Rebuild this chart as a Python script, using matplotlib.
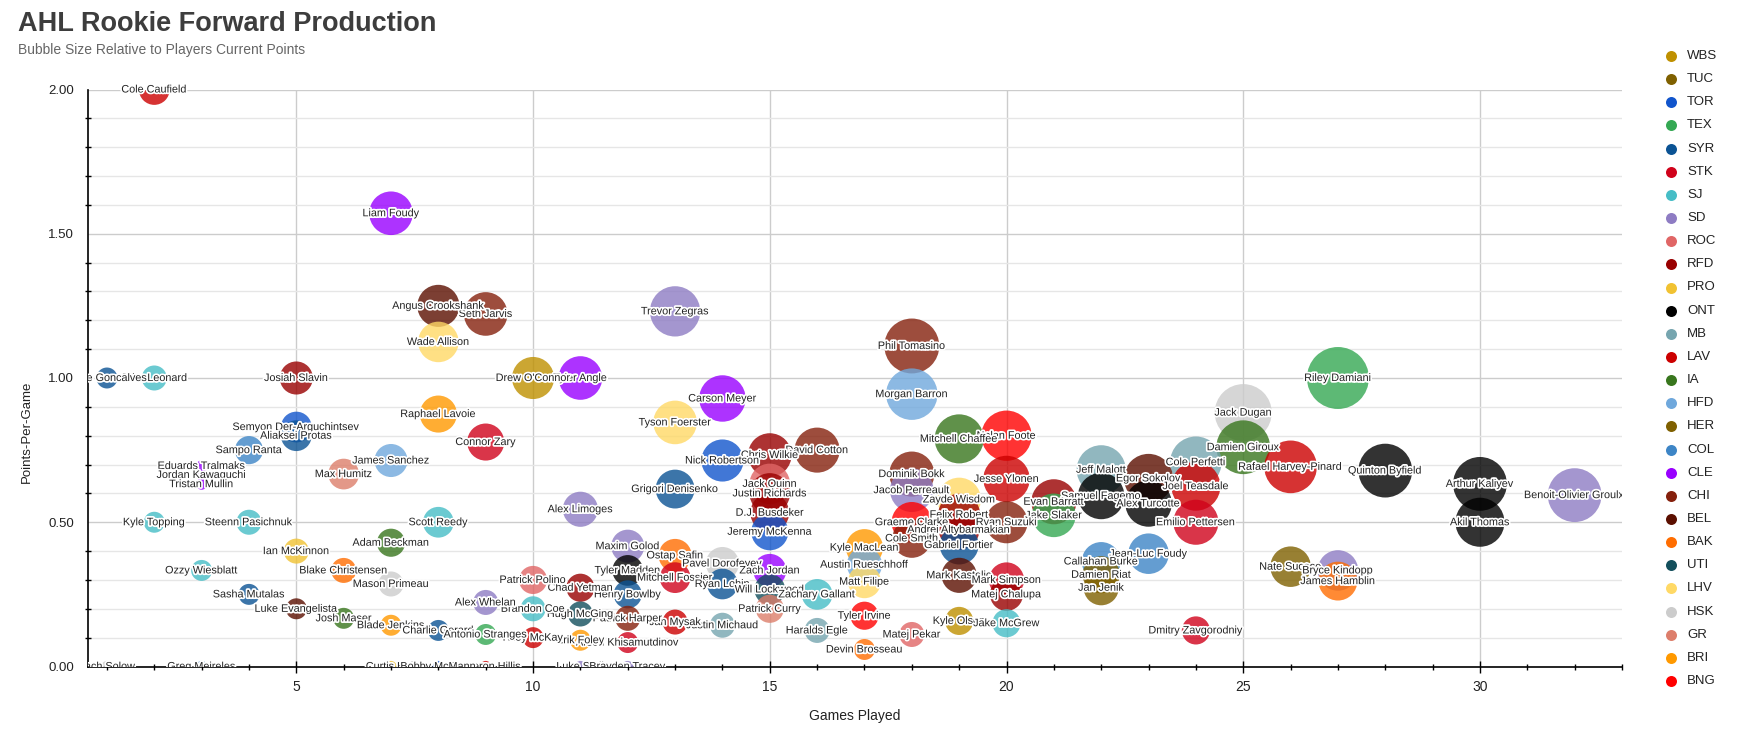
#!/usr/bin/env python3
"""
AHL rookie forward production: points-per-game vs games played,
bubble size scaled by the player's current points.
"""

import numpy as np
import matplotlib
matplotlib.use('Agg')
import matplotlib.pyplot as plt
import matplotlib.patheffects as pe
from matplotlib.transforms import Bbox, TransformedBbox
from matplotlib.ticker import MultipleLocator, FixedLocator, FormatStrFormatter

plt.rcParams['font.family'] = ['Liberation Sans', 'DejaVu Sans']

# ---- data ----
players = [
    'Cole Caufield', 'Gage Goncalves', 'John Leonard', 'Josiah Slavin', 'Semyon Der-Arguchintsev',
    'Aliaksei Protas', 'Sampo Ranta', 'Eduards Tralmaks', 'Jordan Kawaguchi', 'Tristan Mullin',
    'Kyle Topping', 'Steenn Pasichnuk', 'Ian McKinnon', 'Ozzy Wiesblatt', 'Sasha Mutalas',
    'Luke Evangelista', 'Josh Maser', 'Blake Christensen', 'Adam Beckman', 'Mason Primeau',
    'Blade Jenkins', 'Charlie Gerard', 'Scott Reedy', 'James Sanchez', 'Max Humitz',
    'Raphael Lavoie', 'Connor Zary', 'Wade Allison', 'Angus Crookshank', 'Seth Jarvis',
    'Liam Foudy', "Drew O'Connor", 'Tyler Angle', 'Trevor Zegras', 'Carson Meyer',
    'Tyson Foerster', 'Nick Robertson', 'Chris Wilkie', 'David Cotton', 'Grigori Denisenko',
    'Jack Quinn', 'Justin Richards', 'D.J. Busdeker', 'Jeremy McKenna', 'Alex Limoges',
    'Maxim Golod', 'Ostap Safin', 'Pavel Dorofeyev', 'Tyler Madden', 'Mitchell Fossier',
    'Henry Bowlby', 'Chad Yetman', 'Patrick Polino', 'Ryan Lohin', 'Zach Jordan',
    'Will Lockwood', 'Patrick Curry', 'Zachary Gallant', 'Haralds Egle', 'Justin Michaud',
    'Jan Mysak', 'Patrick Harper', 'Arsen Khisamutdinov', 'Erik Foley', 'Hugh McGing',
    'Brandon Coe', 'Riley McKay', 'Alex Whelan', 'Antonio Stranges', 'Cameron Hillis',
    'Curtis Hall', 'Bobby McMann', 'Luke Stoll', 'Brayden Tracey', 'Zach Solow',
    'Greg Meireles', 'Phil Tomasino', 'Morgan Barron', 'Mitchell Chaffee', 'Nolan Foote',
    'Dominik Bokk', 'Jacob Perreault', 'Zayde Wisdom', 'Jesse Ylonen', 'Felix Robert',
    'Ryan Suzuki', 'Graeme Clarke', 'Andrei Altybarmakian', 'Cole Smith', 'Gabriel Fortier',
    'Kyle MacLean', 'Austin Rueschhoff', 'Matt Filipe', 'Tyler Irvine', 'Devin Brosseau',
    'Matej Pekar', 'Kyle Olson', 'Jake McGrew', 'Mark Kastelic', 'Mark Simpson',
    'Matej Chalupa', 'Evan Barratt', 'Jake Slaker', 'Samuel Fagemo', 'Jeff Malott',
    'Egor Sokolov', 'Alex Turcotte', 'Cole Perfetti', 'Joel Teasdale', 'Emilio Pettersen',
    'Jean-Luc Foudy', 'Callahan Burke', 'Damien Riat', 'Jan Jenik', 'Dmitry Zavgorodniy',
    'Jack Dugan', 'Damien Giroux', 'Rafael Harvey-Pinard', 'Riley Damiani', 'Quinton Byfield',
    'Arthur Kaliyev', 'Akil Thomas', 'Benoit-Olivier Groulx', 'Nate Sucese', 'Bryce Kindopp',
    'James Hamblin',
]

games_played = [
    2, 1, 2, 5, 5, 5, 4, 3, 3, 3,
    2, 4, 5, 3, 4, 5, 6, 6, 7, 7,
    7, 8, 8, 7, 6, 8, 9, 8, 8, 9,
    7, 10, 11, 13, 14, 13, 14, 15, 16, 13,
    15, 15, 15, 15, 11, 12, 13, 14, 12, 13,
    12, 11, 10, 14, 15, 15, 15, 16, 16, 14,
    13, 12, 12, 11, 11, 10, 10, 9, 9, 9,
    7, 8, 11, 12, 1, 3, 18, 18, 19, 20,
    18, 18, 19, 20, 19, 20, 18, 19, 18, 19,
    17, 17, 17, 17, 17, 18, 19, 20, 19, 20,
    20, 21, 21, 22, 22, 23, 23, 24, 24, 24,
    23, 22, 22, 22, 24, 25, 25, 26, 27, 28,
    30, 30, 32, 26, 27, 27,
]

points_per_game = [
    2.000, 1.000, 1.000, 1.000, 0.830, 0.800, 0.750, 0.695, 0.664, 0.632,
    0.500, 0.500, 0.400, 0.333, 0.250, 0.200, 0.167, 0.333, 0.429, 0.286,
    0.143, 0.125, 0.500, 0.714, 0.667, 0.875, 0.778, 1.125, 1.250, 1.222,
    1.571, 1.000, 1.000, 1.231, 0.929, 0.846, 0.714, 0.733, 0.750, 0.615,
    0.633, 0.600, 0.533, 0.467, 0.545, 0.417, 0.385, 0.357, 0.333, 0.308,
    0.250, 0.273, 0.300, 0.286, 0.333, 0.267, 0.200, 0.250, 0.125, 0.143,
    0.154, 0.167, 0.083, 0.091, 0.182, 0.200, 0.100, 0.222, 0.111, 0.000,
    0.000, 0.000, 0.000, 0.000, 0.000, 0.000, 1.111, 0.944, 0.789, 0.800,
    0.667, 0.611, 0.579, 0.650, 0.526, 0.500, 0.500, 0.474, 0.444, 0.421,
    0.412, 0.353, 0.294, 0.176, 0.059, 0.111, 0.158, 0.150, 0.316, 0.300,
    0.250, 0.571, 0.524, 0.591, 0.682, 0.652, 0.565, 0.708, 0.625, 0.500,
    0.391, 0.364, 0.318, 0.273, 0.125, 0.880, 0.760, 0.692, 1.000, 0.679,
    0.633, 0.500, 0.594, 0.346, 0.333, 0.296,
]

points = [
    4, 1, 2, 5, 4, 4, 3, 0, 0, 0,
    1, 2, 2, 1, 1, 1, 1, 2, 3, 2,
    1, 1, 4, 5, 4, 7, 7, 9, 10, 11,
    11, 10, 11, 16, 13, 11, 10, 11, 12, 8,
    9, 9, 8, 7, 6, 5, 5, 5, 4, 4,
    3, 3, 3, 4, 5, 4, 3, 4, 2, 2,
    2, 2, 1, 1, 2, 2, 1, 2, 1, 0,
    0, 0, 0, 0, 0, 0, 20, 17, 15, 16,
    12, 11, 11, 13, 10, 10, 9, 9, 8, 8,
    7, 6, 5, 3, 1, 2, 3, 3, 6, 6,
    5, 12, 11, 13, 15, 15, 13, 17, 15, 12,
    9, 8, 7, 6, 3, 22, 19, 18, 27, 19,
    19, 15, 19, 9, 9, 8,
]

teams = [
    'LAV', 'SYR', 'SJ', 'RFD', 'TOR', 'SYR', 'COL', 'CLE', 'CLE', 'CLE',
    'SJ', 'SJ', 'PRO', 'SJ', 'SYR', 'BEL', 'IA', 'BAK', 'IA', 'HSK',
    'BRI', 'SYR', 'SJ', 'HFD', 'GR', 'BRI', 'STK', 'LHV', 'BEL', 'CHI',
    'CLE', 'WBS', 'CLE', 'SD', 'CLE', 'LHV', 'TOR', 'RFD', 'CHI', 'SYR',
    'ROC', 'RFD', 'RFD', 'TOR', 'SD', 'SD', 'BAK', 'HSK', 'ONT', 'STK',
    'SYR', 'RFD', 'ROC', 'SYR', 'CLE', 'UTI', 'GR', 'SJ', 'MB', 'MB',
    'LAV', 'CHI', 'STK', 'BRI', 'UTI', 'SJ', 'LAV', 'SD', 'TEX', 'LAV',
    'PRO', 'TOR', 'SD', 'SD', 'HSK', 'COL', 'CHI', 'HFD', 'IA', 'BNG',
    'CHI', 'SD', 'LHV', 'LAV', 'RFD', 'CHI', 'BNG', 'RFD', 'CHI', 'SYR',
    'BRI', 'HFD', 'LHV', 'BNG', 'BAK', 'ROC', 'WBS', 'SJ', 'BEL', 'STK',
    'RFD', 'RFD', 'TEX', 'ONT', 'MB', 'BEL', 'ONT', 'MB', 'LAV', 'STK',
    'COL', 'COL', 'HER', 'TUC', 'STK', 'HSK', 'IA', 'LAV', 'TEX', 'ONT',
    'ONT', 'ONT', 'SD', 'TUC', 'SD', 'BAK',
]

legend_teams = ['WBS', 'TUC', 'TOR', 'TEX', 'SYR', 'STK', 'SJ', 'SD', 'ROC', 'RFD',
                'PRO', 'ONT', 'MB', 'LAV', 'IA', 'HFD', 'HER', 'COL', 'CLE', 'CHI',
                'BEL', 'BAK', 'UTI', 'LHV', 'HSK', 'GR', 'BRI', 'BNG']

team_colors = {
    'WBS': '#bf9000', 'TUC': '#7f6000', 'TOR': '#1155cc', 'TEX': '#34a853',
    'SYR': '#0b5394', 'STK': '#d0021b', 'SJ': '#46bdc6', 'SD': '#8e7cc3',
    'ROC': '#e06666', 'RFD': '#990000', 'PRO': '#f1c232', 'ONT': '#000000',
    'MB': '#76a5af', 'LAV': '#cc0000', 'IA': '#38761d', 'HFD': '#6fa8dc',
    'HER': '#7f6000', 'COL': '#3d85c6', 'CLE': '#9900ff', 'CHI': '#85200c',
    'BEL': '#5b0f00', 'BAK': '#ff6d01', 'UTI': '#134f5c', 'LHV': '#ffd966',
    'HSK': '#cccccc', 'GR': '#dd7e6b', 'BRI': '#ff9900', 'BNG': '#ff0000',
}

# ---- figure ----
W, H, DPI = 1760, 738, 100
fig = plt.figure(figsize=(W / DPI, H / DPI), dpi=DPI, facecolor='white')
ax = fig.add_axes([88 / W, 1 - 666.5 / H, (1622 - 88) / W, (666.5 - 89.5) / H])

gp = np.array(games_played, dtype=float)
ppg = np.array(points_per_game, dtype=float)
pts = np.array(points, dtype=float)

# bubble radius in pixels grows with sqrt(points)
radius_px = 5.6 + 4.886 * np.sqrt(pts)
sizes = (2 * radius_px * 72 / DPI) ** 2

# larger bubbles go underneath
order = np.argsort(-pts, kind='stable')
colors = [team_colors[t] for t in teams]

ax.scatter(gp[order], ppg[order], s=sizes[order],
           c=[colors[i] for i in order], alpha=0.8, linewidths=0, zorder=3)

# labels are cut at the left and bottom axis lines but may spill over the top
label_box = TransformedBbox(Bbox([[0, 0], [1, 1.1]]), ax.transAxes)
halo = [pe.withStroke(linewidth=2.5, foreground='white')]
for i in order:
    t = ax.text(gp[i], ppg[i], players[i], ha='center', va='center', fontsize=7.8,
                color='#222222', zorder=4, path_effects=halo, clip_on=True)
    t.set_clip_box(label_box)

ax.set_xlim(0.6, 33)
ax.set_ylim(0, 2)

# ticks and grid
ax.xaxis.set_major_locator(FixedLocator([5, 10, 15, 20, 25, 30]))
ax.xaxis.set_minor_locator(MultipleLocator(1))
ax.yaxis.set_major_locator(MultipleLocator(0.5))
ax.yaxis.set_minor_locator(MultipleLocator(0.1))
ax.yaxis.set_major_formatter(FormatStrFormatter('%.2f'))

ax.tick_params(axis='x', which='major', direction='inout', length=8, width=1,
               labelsize=10, colors='black', labelcolor='#222222', pad=6)
ax.tick_params(axis='x', which='minor', direction='inout', length=4.5, width=1)
ax.tick_params(axis='y', which='major', length=0, labelsize=9.5,
               labelcolor='#222222', pad=10)
ax.tick_params(axis='y', which='minor', direction='inout', length=5, width=1)

ax.set_axisbelow(True)
ax.yaxis.grid(True, which='minor', color='#e6e6e6', linewidth=1)
ax.yaxis.grid(True, which='major', color='#cccccc', linewidth=1)
ax.xaxis.grid(True, which='major', color='#cccccc', linewidth=1)

for side in ['top', 'right']:
    ax.spines[side].set_visible(False)
for side in ['left', 'bottom']:
    ax.spines[side].set_color('black')
    ax.spines[side].set_linewidth(1.2)

# axis titles
fig.text(27 / W, 1 - 432 / H, 'Points-Per-Game', rotation=90, ha='center',
         va='center', fontsize=9.5, color='#222222')
fig.text(855 / W, 1 - 716 / H, 'Games Played', ha='center', va='center',
         fontsize=10, color='#222222')

# title and subtitle
fig.text(18 / W, 1 - 31 / H, 'AHL Rookie Forward Production', ha='left',
         va='baseline', fontsize=19.5, fontweight='bold', color='#3d3d3d')
fig.text(18 / W, 1 - 50 / H, 'Bubble Size Relative to Players Current Points',
         ha='left', va='center', fontsize=10, color='#666666')

# legend on the right
lax = fig.add_axes([0, 0, 1, 1], facecolor='none')
lax.set_xlim(0, W)
lax.set_ylim(H, 0)
lax.axis('off')
for k, team in enumerate(legend_teams):
    y = 56 + k * 23.15
    lax.scatter([1671], [y], s=(11 * 72 / DPI) ** 2, color=team_colors[team], linewidths=0)
    lax.text(1687, y, team, ha='left', va='center', fontsize=9.5, color='#222222')

fig.savefig('out.png', dpi=DPI, facecolor='white')
